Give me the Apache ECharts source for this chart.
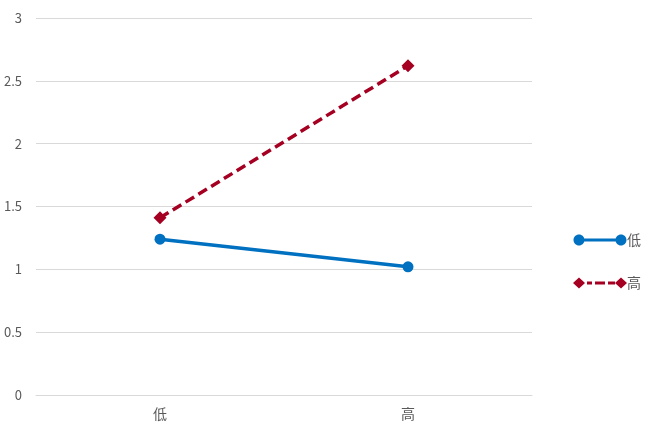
<!DOCTYPE html>
<html>
<head>
<meta charset="utf-8">
<script src="https://cdn.jsdelivr.net/npm/echarts@6/dist/echarts.min.js"></script>
<style>html,body{margin:0;padding:0;background:#fff}#c{width:657px;height:422px}</style>
</head>
<body>
<div id="c"></div>
<script>
var categories = ['低', '高'];
var seriesNames = ['低', '高'];
var lowValues = [1.24, 1.02];
var highValues = [1.41, 2.62];
var yTicks = [0, 0.5, 1, 1.5, 2, 2.5, 3];

var blueIcon = 'path://M11.5,5.5C11.5,8.54 9.04,11 6,11C2.96,11 0.5,8.54 0.5,5.5C0.5,2.46 2.96,0 6,0C9.04,0 11.5,2.46 11.5,5.5Z' +
  'M6,4H48V7H6Z' +
  'M53.5,5.5C53.5,8.54 51.04,11 48,11C44.96,11 42.5,8.54 42.5,5.5C42.5,2.46 44.96,0 48,0C51.04,0 53.5,2.46 53.5,5.5Z' +
  'M0,5.5L0.01,5.49Z M54,5.5L53.99,5.51Z';
var redIcon = 'path://M0,5.5L6,0L12,5.5L6,11Z M14,4H19V7H14Z M22,4H32V7H22Z M35,4H42V7H35Z M42,5.5L48,0L54,5.5L48,11Z';

var chart = echarts.init(document.getElementById('c'));
var font = "'Noto Sans CJK SC', 'Open Sans', sans-serif";
chart.setOption({
  animation: false,
  textStyle: { fontFamily: font },
  grid: { left: 36, right: 125, top: 18, bottom: 27 },
  legend: {
    orient: 'vertical',
    left: 568,
    top: 228,
    itemWidth: 54,
    itemHeight: 11,
    itemGap: 29,
    textStyle: { color: '#595959', fontSize: 14, fontFamily: font, padding: [0, 0, 0, -5] },
    data: [
      { name: seriesNames[0], icon: blueIcon },
      { name: seriesNames[1], icon: redIcon }
    ]
  },
  xAxis: {
    type: 'category',
    data: categories,
    axisLine: { show: true, lineStyle: { color: '#d9d9d9' } },
    axisTick: { show: false },
    axisLabel: { color: '#595959', fontSize: 14, margin: 12 }
  },
  yAxis: {
    type: 'value',
    min: yTicks[0],
    max: yTicks[yTicks.length - 1],
    interval: 0.5,
    axisLine: { show: false },
    axisTick: { show: false },
    splitLine: { lineStyle: { color: '#d9d9d9' } },
    axisLabel: { color: '#595959', fontSize: 13, margin: 14 }
  },
  series: [
    {
      name: seriesNames[0],
      type: 'line',
      data: lowValues,
      symbol: 'circle',
      symbolSize: 11,
      itemStyle: { color: '#0070C0' },
      lineStyle: { color: '#0070C0', width: 3.5 }
    },
    {
      name: seriesNames[1],
      type: 'line',
      data: highValues,
      symbol: 'diamond',
      symbolSize: 13,
      itemStyle: { color: '#A50021' },
      lineStyle: { color: '#A50021', width: 3.5, type: [10, 5] }
    }
  ]
});
</script>
</body>
</html>
